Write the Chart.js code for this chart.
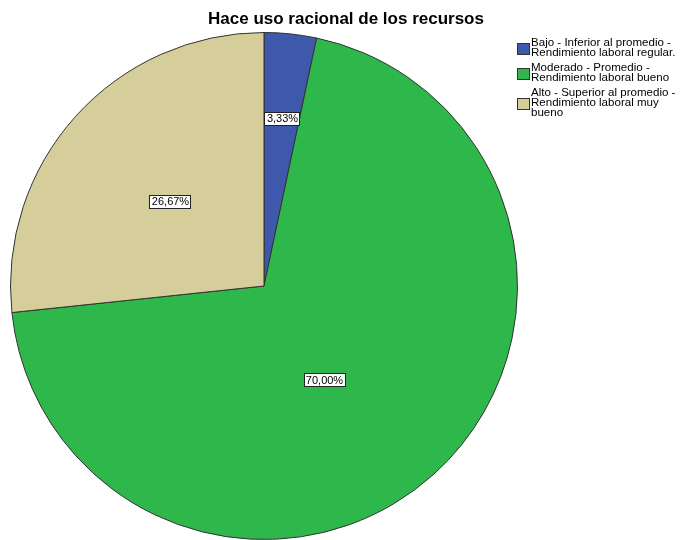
<!DOCTYPE html>
<html>
<head>
<meta charset="utf-8">
<script src="https://cdn.jsdelivr.net/npm/chart.js@4/dist/chart.umd.min.js"></script>
<style>
  html, body { margin: 0; padding: 0; background: #fff; }
  #wrap { width: 681px; height: 540px; }
</style>
</head>
<body>
<div id="wrap"><canvas id="pie"></canvas></div>
<script>
// --- DATA ---
const chartTitle = 'Hace uso racional de los recursos';
const categories = [
    ['Bajo - Inferior al promedio -', 'Rendimiento laboral regular.'],
    ['Moderado - Promedio -', 'Rendimiento laboral bueno'],
    ['Alto - Superior al promedio -', 'Rendimiento laboral muy', 'bueno']
];
const percentages = [3.33, 70.00, 26.67];
const sliceColors = ['#3e58ac', '#2eb84b', '#d5ce9b'];

const FONT = 'Arial, "Liberation Sans", sans-serif';
// how far out along each slice the value box sits (fraction of radius)
const labelRadius = [0.665, 0.44, 0.5];
const labelTurn = [0, 0.16, 0];

const fmtPct = v => v.toFixed(2).replace('.', ',') + '%';

// title drawn centred over the pie + legend block
const titlePlugin = {
    id: 'titleText',
    afterDraw(chart) {
        const ctx = chart.ctx;
        ctx.save();
        ctx.font = 'bold 17px ' + FONT;
        ctx.fillStyle = '#000';
        ctx.textAlign = 'center';
        ctx.textBaseline = 'middle';
        ctx.fillText(chartTitle, 346, 19);
        ctx.restore();
    }
};

// value boxes inside the slices
const sliceLabels = {
    id: 'sliceLabels',
    afterDatasetsDraw(chart) {
        const ctx = chart.ctx;
        const arcs = chart.getDatasetMeta(0).data;
        ctx.save();
        ctx.font = '11px ' + FONT;
        ctx.textAlign = 'center';
        ctx.textBaseline = 'middle';
        arcs.forEach((arc, i) => {
            const mid = (arc.startAngle + arc.endAngle) / 2 + labelTurn[i];
            const r = arc.outerRadius * labelRadius[i];
            const x = arc.x + Math.cos(mid) * r;
            const y = arc.y + Math.sin(mid) * r;
            const text = fmtPct(percentages[i]);
            const w = Math.round(ctx.measureText(text).width) + 4;
            const h = 13;
            ctx.fillStyle = '#fff';
            ctx.fillRect(Math.round(x - w / 2) + 0.5, Math.round(y - h / 2) + 0.5, w, h);
            ctx.strokeStyle = '#222';
            ctx.lineWidth = 1;
            ctx.strokeRect(Math.round(x - w / 2) + 0.5, Math.round(y - h / 2) + 0.5, w, h);
            ctx.fillStyle = '#000';
            ctx.fillText(text, Math.round(x) + 0.5, Math.round(y) + 1);
        });
        ctx.restore();
    }
};

// legend with wrapped labels, right of the pie
const sideLegend = {
    id: 'sideLegend',
    afterDraw(chart) {
        const ctx = chart.ctx;
        const lineH = 10;
        const textX = 531;
        let top = 39;
        ctx.save();
        ctx.textBaseline = 'middle';
        chart.data.labels.forEach((lines, i) => {
            const blockH = lines.length * lineH;
            const boxY = Math.round(top + blockH / 2 - 5);
            ctx.fillStyle = sliceColors[i];
            ctx.fillRect(518, boxY, 11, 10);
            ctx.strokeStyle = '#333';
            ctx.lineWidth = 1;
            ctx.strokeRect(517.5, boxY - 0.5, 12, 11);
            // slightly widened glyphs so the lines keep their length
            ctx.save();
            ctx.translate(textX, 0);
            ctx.scale(1.05, 1);
            ctx.font = '11px ' + FONT;
            ctx.fillStyle = '#000';
            lines.forEach((ln, j) => ctx.fillText(ln, 0, top + 4 + j * lineH));
            ctx.restore();
            top += blockH + 5;
        });
        ctx.restore();
    }
};

new Chart(document.getElementById('pie'), {
    type: 'pie',
    data: {
        labels: categories,
        datasets: [{
            data: percentages,
            backgroundColor: sliceColors,
            borderColor: '#333',
            borderWidth: 1
        }]
    },
    options: {
        responsive: true,
        maintainAspectRatio: false,
        animation: false,
        layout: { padding: { left: 9, right: 162, top: 32, bottom: 0 } },
        plugins: {
            legend: { display: false },
            title: { display: false },
            tooltip: { enabled: false }
        }
    },
    plugins: [titlePlugin, sliceLabels, sideLegend]
});
</script>
</body>
</html>
